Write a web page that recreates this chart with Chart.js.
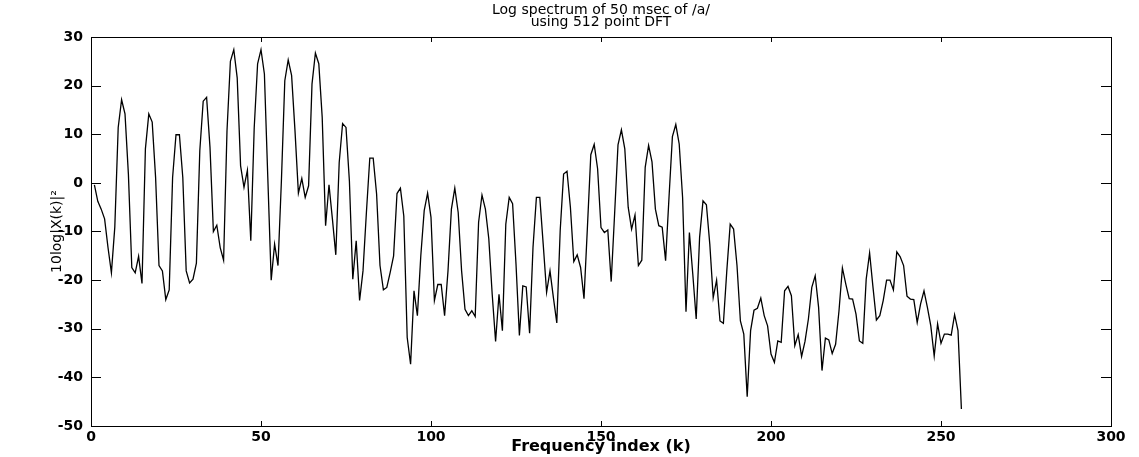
<!DOCTYPE html>
<html>
<head>
<meta charset="utf-8">
<script src="https://cdn.jsdelivr.net/npm/chart.js@4.4.1/dist/chart.umd.min.js"></script>
<style>
  html, body { margin: 0; padding: 0; background: #fff; }
  canvas { display: block; }
</style>
</head>
<body>
<canvas id="c" width="1139" height="457"></canvas>
<script>
// ---- data ----
const titleLines = ['Log spectrum of 50 msec of /a/', 'using 512 point DFT'];
const xAxisLabel = 'Frequency index (k)';
const yAxisLabel = '10log|X(k)|\u00B2';
const xTickValues = [0, 50, 100, 150, 200, 250, 300];
const yTickValues = [-50, -40, -30, -20, -10, 0, 10, 20, 30];
const firstIndex = 1;

// log spectrum, k = 1..64
const spectrumPart1 = [
  -0.4, -3.8, -5.4, -7.4, -13.3, -18.5, -9.1, 11.4, 17.1, 14.2,
  1.8, -17.4, -18.5, -15.1, -20.7, 7.0, 14.2, 12.5, 1.1, -17.0,
  -18.1, -24.0, -22.0, 1.1, 9.9, 9.9, 1.1, -18.1, -20.6, -19.8,
  -16.5, 6.6, 16.8, 17.6, 7.3, -10.0, -8.7, -13.3, -15.9, 10.7,
  25.0, 27.4, 21.6, 3.5, -0.9, 2.6, -11.9, 11.3, 24.5, 27.4,
  22.4, 1.1, -20.0, -12.6, -17.0, 0.4, 21.0, 25.3, 22.1, 10.7,
  -2.1, 0.9, -3.0, -0.6
];
// k = 65..128
const spectrumPart2 = [
  20.3, 26.7, 24.5, 13.5, -8.8, -0.4, -7.4, -14.8, 4.2, 12.2,
  11.4, 0.4, -19.8, -11.9, -24.2, -18.1, -6.1, 5.1, 5.1, -2.3,
  -17.0, -22.0, -21.5, -18.4, -15.0, -2.2, -1.1, -6.8, -31.8, -37.3,
  -22.2, -27.3, -15.0, -5.7, -2.1, -7.1, -24.2, -20.9, -20.9, -27.3,
  -18.1, -5.4, -1.1, -6.1, -18.1, -26.0, -27.3, -26.3, -27.5, -8.1,
  -2.5, -5.4, -11.5, -22.9, -32.6, -22.9, -30.4, -8.5, -3.0, -4.3,
  -16.7, -31.4, -21.2, -21.4
];
// k = 129..192
const spectrumPart3 = [
  -30.9, -13.3, -3.0, -3.0, -12.6, -22.5, -18.1, -23.6, -28.8, -9.8,
  1.8, 2.4, -5.0, -16.2, -14.8, -17.4, -23.8, -9.2, 5.8, 7.9,
  2.9, -9.2, -10.2, -9.7, -20.3, -6.4, 7.8, 10.9, 7.0, -5.0,
  -9.5, -6.6, -17.0, -15.9, 3.2, 7.7, 4.3, -5.4, -8.8, -9.1,
  -16.0, -3.0, 9.5, 12.0, 8.0, -3.0, -26.5, -10.2, -18.8, -28.0,
  -11.2, -3.7, -4.5, -12.6, -23.6, -20.0, -28.4, -28.9, -18.1, -8.5,
  -9.5, -17.0, -28.4, -31.1
];
// k = 193..256
const spectrumPart4 = [
  -44.0, -30.4, -26.2, -25.8, -23.7, -27.3, -29.4, -35.2, -36.9, -32.5,
  -32.8, -22.2, -21.3, -23.2, -33.5, -31.2, -35.7, -32.6, -28.0, -21.5,
  -19.1, -25.6, -38.6, -31.9, -32.3, -35.1, -33.2, -26.3, -17.5, -20.8,
  -23.8, -23.9, -27.0, -32.5, -33.0, -19.8, -14.4, -21.5, -28.2, -27.3,
  -24.2, -20.0, -20.0, -22.0, -14.2, -15.2, -17.0, -23.3, -23.9, -24.0,
  -28.7, -24.9, -22.2, -25.6, -29.4, -35.6, -29.0, -33.0, -31.1, -31.1,
  -31.3, -27.1, -30.4, -46.5
];

const spectrum = spectrumPart1.concat(spectrumPart2, spectrumPart3, spectrumPart4);
const points = spectrum.map((v, i) => ({ x: firstIndex + i, y: v }));

// ---- frame with inward ticks on all four sides ----
const framePlugin = {
  id: 'frame',
  afterDatasetsDraw(chart) {
    const { ctx, chartArea: { left, right, top, bottom }, scales: { x, y } } = chart;
    ctx.save();
    ctx.strokeStyle = '#000';
    ctx.lineWidth = 1;
    ctx.strokeRect(Math.round(left) + 0.5, Math.round(top) + 0.5,
                   Math.round(right - left), Math.round(bottom - top));
    ctx.beginPath();
    x.ticks.forEach(t => {
      const px = Math.round(x.getPixelForValue(t.value)) + 0.5;
      ctx.moveTo(px, bottom); ctx.lineTo(px, bottom - 5);
      ctx.moveTo(px, top); ctx.lineTo(px, top + 5);
    });
    y.ticks.forEach(t => {
      const py = Math.round(y.getPixelForValue(t.value)) + 0.5;
      ctx.moveTo(left, py); ctx.lineTo(left + 10, py);
      ctx.moveTo(right, py); ctx.lineTo(right - 10, py);
    });
    ctx.stroke();
    ctx.restore();
  }
};

const tickFont = { family: 'DejaVu Sans', size: 14, weight: 'bold' };

new Chart(document.getElementById('c'), {
  type: 'line',
  data: {
    datasets: [{
      data: points,
      borderColor: '#000',
      borderWidth: 1.3,
      pointRadius: 0,
      tension: 0,
      fill: false
    }]
  },
  options: {
    responsive: false,
    animation: false,
    events: [],
    layout: { padding: { left: 0, right: 28, top: 0, bottom: 0 } },
    plugins: {
      legend: { display: false },
      tooltip: { enabled: false },
      title: {
        display: true,
        text: titleLines,
        color: '#000',
        fullSize: false,
        font: { family: 'DejaVu Sans', size: 14, weight: 'normal', lineHeight: 0.857 },
        padding: { top: 4, bottom: 9 }
      }
    },
    scales: {
      x: {
        type: 'linear',
        min: 0, max: 300,
        afterBuildTicks: s => { s.ticks = xTickValues.map(v => ({ value: v })); },
        ticks: { color: '#000', font: tickFont, padding: 3, maxRotation: 0, autoSkip: false },
        grid: { display: false, drawTicks: false },
        border: { display: false },
        title: {
          display: true, text: xAxisLabel, color: '#000',
          font: { family: 'DejaVu Sans', size: 16, weight: 'bold', lineHeight: 1.0 },
          padding: { top: 0, bottom: 2 }
        },
        afterFit: s => { s.height = 31; }
      },
      y: {
        type: 'linear',
        min: -50, max: 30,
        afterBuildTicks: s => { s.ticks = yTickValues.map(v => ({ value: v })); },
        ticks: { color: '#000', font: tickFont, padding: 8, autoSkip: false },
        grid: { display: false, drawTicks: false },
        border: { display: false },
        title: {
          display: true, text: yAxisLabel, color: '#000',
          font: { family: 'DejaVu Sans', size: 14, weight: 'normal', lineHeight: 1.0 },
          padding: { top: 50, bottom: 0 }
        },
        afterFit: s => { s.width = 91; }
      }
    }
  },
  plugins: [framePlugin]
});
</script>
</body>
</html>
